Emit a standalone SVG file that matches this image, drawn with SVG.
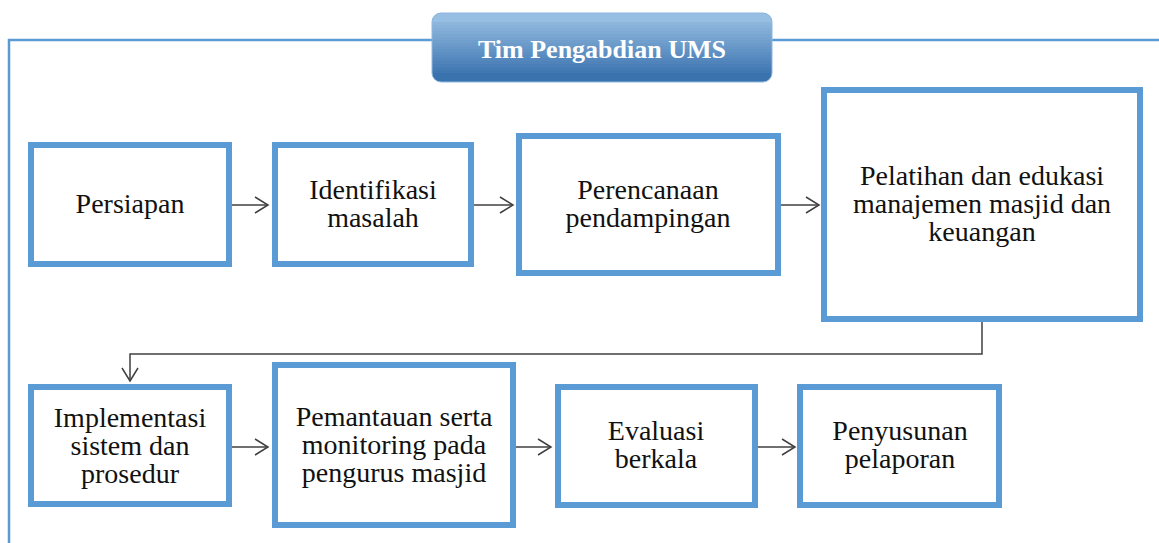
<svg xmlns="http://www.w3.org/2000/svg" width="1159" height="543" viewBox="0 0 1159 543">
<defs>
<marker id="arr" markerWidth="16" markerHeight="18" refX="14" refY="9" orient="auto" markerUnits="userSpaceOnUse">
<path d="M1,1 L14,9 L1,17" fill="none" stroke="#404040" stroke-width="1.5"/>
</marker>
<style>
text{font-family:'Liberation Serif','Times New Roman',serif}
.box{fill:#ffffff;stroke:#5b9bd5;stroke-width:6}
.lbl{font-size:28px;fill:#111111;text-anchor:middle}
.con{fill:none;stroke:#404040;stroke-width:1.5}
.frame{fill:none;stroke:#5b9bd5;stroke-width:2.5}
.title{font-size:26px;font-weight:bold;fill:#ffffff;text-anchor:middle}
</style>
</defs>
<rect width="1159" height="543" fill="#ffffff"/>
<path class="frame" d="M9,543 L9,40 L1159,40"/>
<g id="title">
<rect x="432" y="13" width="340" height="69" rx="9" fill="#3a72ad"/>
<rect x="432" y="13" width="340" height="40" rx="9" fill="#97bee3"/>
<g stroke="none">
<rect x="432" y="22" width="340" height="3.2" fill="#8eb6dd"/>
<rect x="432" y="25" width="340" height="3.2" fill="#89b2db"/>
<rect x="432" y="28" width="340" height="3.2" fill="#84aed8"/>
<rect x="432" y="31" width="340" height="3.2" fill="#7fabd5"/>
<rect x="432" y="34" width="340" height="3.2" fill="#7aa7d2"/>
<rect x="432" y="37" width="340" height="3.2" fill="#76a3d0"/>
<rect x="432" y="40" width="340" height="3.2" fill="#719fcd"/>
<rect x="432" y="43" width="340" height="3.2" fill="#6c9bca"/>
<rect x="432" y="46" width="340" height="3.2" fill="#6797c8"/>
<rect x="432" y="49" width="340" height="3.2" fill="#6293c5"/>
<rect x="432" y="52" width="340" height="3.2" fill="#5d8fc2"/>
<rect x="432" y="55" width="340" height="3.2" fill="#588bbf"/>
<rect x="432" y="58" width="340" height="3.2" fill="#5487bd"/>
<rect x="432" y="61" width="340" height="3.2" fill="#4f83ba"/>
<rect x="432" y="64" width="340" height="3.2" fill="#4a7fb7"/>
<rect x="432" y="67" width="340" height="3.2" fill="#457cb4"/>
<rect x="432" y="70" width="340" height="3" fill="#4078b1"/>
</g>
<rect x="432" y="13" width="340" height="69" rx="9" fill="none" stroke="#8fb8e0" stroke-width="1"/>
<text class="title" x="602" y="58" font-family="Liberation Serif, serif">Tim Pengabdian UMS</text>
</g>
<g id="connectors">
<line class="con" x1="232" y1="205" x2="268" y2="205" marker-end="url(#arr)"/>
<line class="con" x1="474" y1="205" x2="513" y2="205" marker-end="url(#arr)"/>
<line class="con" x1="781" y1="205" x2="819" y2="205" marker-end="url(#arr)"/>
<path class="con" d="M982,322 L982,354 L130,354 L130,381" marker-end="url(#arr)"/>
<line class="con" x1="232" y1="447" x2="268" y2="447" marker-end="url(#arr)"/>
<line class="con" x1="516" y1="447" x2="551" y2="447" marker-end="url(#arr)"/>
<line class="con" x1="758" y1="447" x2="795" y2="447" marker-end="url(#arr)"/>
</g>
<g id="persiapan">
<rect class="box" x="31" y="145" width="198" height="119"/>
<text class="lbl" x="130" y="213" font-family="Liberation Serif, serif">Persiapan</text>
</g>
<g id="identifikasi">
<rect class="box" x="275" y="145" width="196" height="119"/>
<text class="lbl" x="373" y="199" font-family="Liberation Serif, serif">Identifikasi</text>
<text class="lbl" x="373" y="227" font-family="Liberation Serif, serif">masalah</text>
</g>
<g id="perencanaan">
<rect class="box" x="519" y="136" width="259" height="137"/>
<text class="lbl" x="648" y="199" font-family="Liberation Serif, serif">Perencanaan</text>
<text class="lbl" x="648" y="227" font-family="Liberation Serif, serif">pendampingan</text>
</g>
<g id="pelatihan">
<rect class="box" x="824" y="90" width="316" height="229"/>
<text class="lbl" x="982" y="185" font-family="Liberation Serif, serif">Pelatihan dan edukasi</text>
<text class="lbl" x="982" y="213" font-family="Liberation Serif, serif">manajemen masjid dan</text>
<text class="lbl" x="982" y="241" font-family="Liberation Serif, serif">keuangan</text>
</g>
<g id="implementasi">
<rect class="box" x="31" y="387" width="198" height="117"/>
<text class="lbl" x="130" y="427" font-family="Liberation Serif, serif">Implementasi</text>
<text class="lbl" x="130" y="455" font-family="Liberation Serif, serif">sistem dan</text>
<text class="lbl" x="130" y="483" font-family="Liberation Serif, serif">prosedur</text>
</g>
<g id="pemantauan">
<rect class="box" x="275" y="365" width="238" height="160"/>
<text class="lbl" x="394" y="426" font-family="Liberation Serif, serif">Pemantauan serta</text>
<text class="lbl" x="394" y="454" font-family="Liberation Serif, serif">monitoring pada</text>
<text class="lbl" x="394" y="482" font-family="Liberation Serif, serif">pengurus masjid</text>
</g>
<g id="evaluasi">
<rect class="box" x="558" y="387" width="197" height="118"/>
<text class="lbl" x="656" y="440" font-family="Liberation Serif, serif">Evaluasi</text>
<text class="lbl" x="656" y="468" font-family="Liberation Serif, serif">berkala</text>
</g>
<g id="penyusunan">
<rect class="box" x="800" y="387" width="199" height="118"/>
<text class="lbl" x="900" y="440" font-family="Liberation Serif, serif">Penyusunan</text>
<text class="lbl" x="900" y="468" font-family="Liberation Serif, serif">pelaporan</text>
</g>
</svg>
